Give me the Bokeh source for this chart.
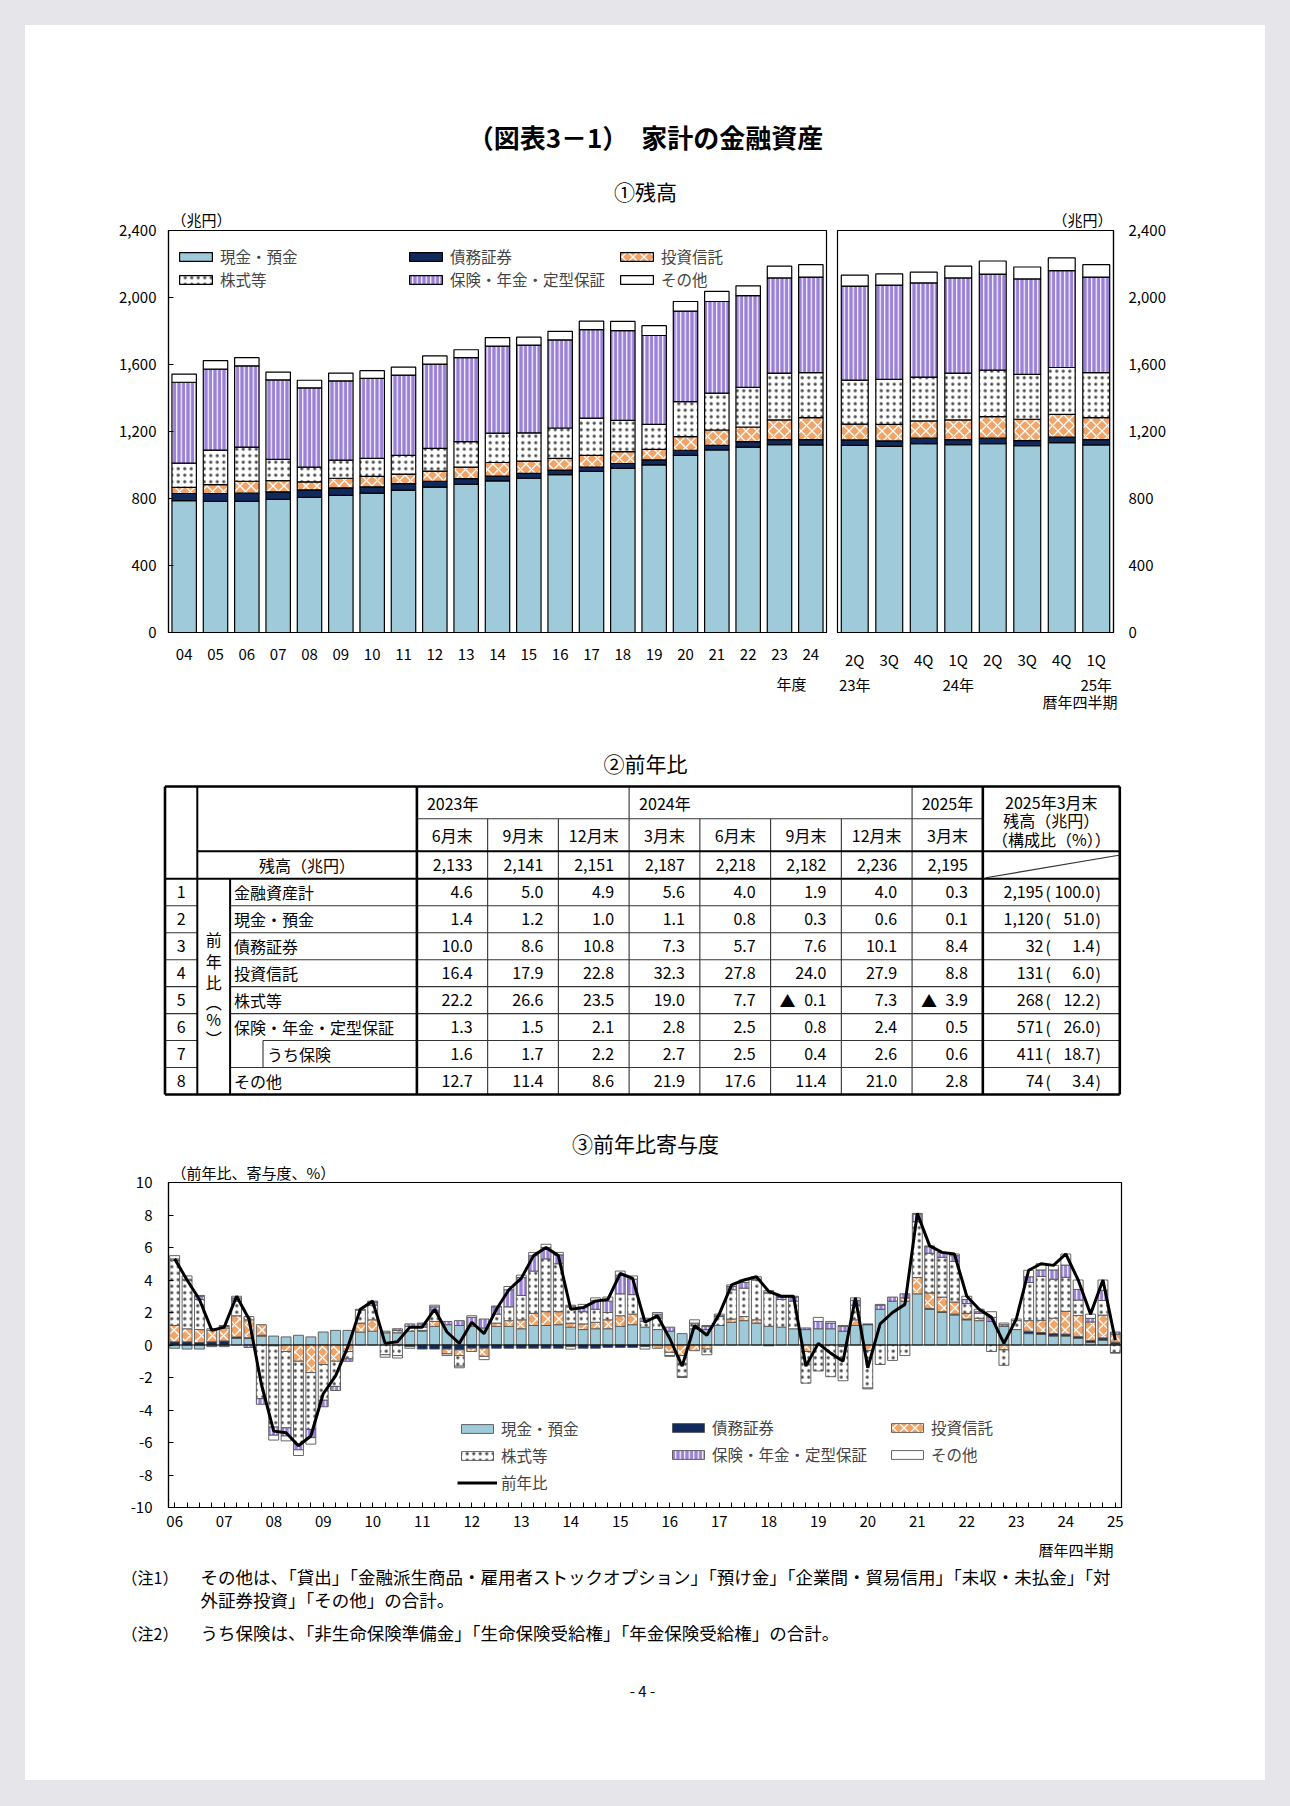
import numpy as np
from bokeh.plotting import figure
from bokeh.models import (ColumnDataSource, Range1d, FixedTicker, NumeralTickFormatter,
                          Legend, LegendItem, Span, Spacer)
from bokeh.layouts import column, row
from bokeh.core.properties import value
from bokeh.embed import file_html
from bokeh.resources import INLINE

FONT = "Noto Sans CJK JP"
FV = value(FONT)

# ============================ DATA ============================
series_keys = ["cash", "bonds", "trust", "stocks", "ins", "other"]
series_names = ["現金・預金", "債務証券", "投資信託", "株式等", "保険・年金・定型保証", "その他"]

# ① 残高（兆円） fiscal years
fy_labels = ["04", "05", "06", "07", "08", "09", "10", "11", "12", "13", "14",
             "15", "16", "17", "18", "19", "20", "21", "22", "23", "24"]
fy_cash = [787, 783, 783, 795, 807, 819, 832, 850, 868, 885, 905, 921, 942, 962, 980, 1001, 1058, 1090, 1107, 1121, 1120]
fy_bonds = [43, 47, 49, 45, 45, 45, 38, 39, 35, 34, 29, 29, 28, 25, 29, 30, 30, 27, 32, 31, 32]
fy_trust = [36, 53, 71, 67, 47, 57, 62, 57, 61, 68, 81, 73, 70, 71, 71, 62, 82, 92, 88, 117, 131]
fy_stocks = [145, 206, 204, 126, 88, 108, 108, 112, 135, 152, 175, 169, 181, 222, 186, 150, 208, 220, 237, 280, 268]
fy_ins = [483, 483, 485, 475, 474, 473, 477, 479, 503, 502, 520, 524, 526, 528, 536, 530, 541, 547, 547, 568, 571]
fy_other = [49, 51, 49, 47, 45, 47, 46, 47, 49, 47, 51, 47, 51, 51, 55, 59, 57, 60, 59, 70, 74]

# ① 残高 calendar quarters
q_labels = ["2Q", "3Q", "4Q", "1Q", "2Q", "3Q", "4Q", "1Q"]
q_year_labels = ["23年", "", "", "24年", "", "", "", "25年"]
q_cash = [1117, 1111, 1127, 1121, 1127, 1115, 1133, 1120]
q_bonds = [33, 33, 33, 31, 33, 31, 33, 32]
q_trust = [94, 98, 103, 117, 129, 127, 136, 131]
q_stocks = [263, 269, 262, 280, 277, 268, 280, 268]
q_ins = [561, 563, 562, 568, 574, 570, 578, 571]
q_other = [65, 67, 64, 70, 78, 71, 76, 74]

bal_ticks = [0, 400, 800, 1200, 1600, 2000, 2400]

# ② 前年比 table
tbl_years = ["2023年", "2024年", "2025年"]
tbl_year_span = [3, 4, 1]
tbl_months = ["6月末", "9月末", "12月末", "3月末", "6月末", "9月末", "12月末", "3月末"]
tbl_balance = [2133, 2141, 2151, 2187, 2218, 2182, 2236, 2195]
tbl_row_labels = ["金融資産計", "現金・預金", "債務証券", "投資信託", "株式等",
                  "保険・年金・定型保証", "うち保険", "その他"]
tbl_yoy = [
    [4.6, 5.0, 4.9, 5.6, 4.0, 1.9, 4.0, 0.3],
    [1.4, 1.2, 1.0, 1.1, 0.8, 0.3, 0.6, 0.1],
    [10.0, 8.6, 10.8, 7.3, 5.7, 7.6, 10.1, 8.4],
    [16.4, 17.9, 22.8, 32.3, 27.8, 24.0, 27.9, 8.8],
    [22.2, 26.6, 23.5, 19.0, 7.7, -0.1, 7.3, -3.9],
    [1.3, 1.5, 2.1, 2.8, 2.5, 0.8, 2.4, 0.5],
    [1.6, 1.7, 2.2, 2.7, 2.5, 0.4, 2.6, 0.6],
    [12.7, 11.4, 8.6, 21.9, 17.6, 11.4, 21.0, 2.8],
]
tbl_amount = [2195, 1120, 32, 131, 268, 571, 411, 74]
tbl_share = [100.0, 51.0, 1.4, 6.0, 12.2, 26.0, 18.7, 3.4]

# ③ 前年比寄与度 (2006Q1 .. 2025Q1)
cq_year_labels = ["06", "07", "08", "09", "10", "11", "12", "13", "14", "15",
                  "16", "17", "18", "19", "20", "21", "22", "23", "24", "25"]
c_cash = [-0.2, -0.25, -0.25, -0.1, -0.1, 0.4, 0.4, 0.55, 0.55, 0.5,
          0.6, 0.5, 0.8, 0.9, 0.9, 0.8, 0.85, 0.75, 0.75, 0.85,
          0.85, 1.15, 1.25, 1.2, 1.15, 1.05, 1.15, 1.15, 1.0, 1.2,
          1.2, 1.25, 1.1, 0.95, 1.0, 1.0, 1.15, 1.25, 1.1, 0.95,
          0.85, 0.7, 1.0, 0.95, 1.2, 1.4, 1.5, 1.35, 1.15, 1.1,
          1.0, 0.95, 1.0, 1.0, 0.85, 1.2, 1.25, 2.2, 2.7, 2.7,
          3.15, 2.2, 2.0, 1.85, 1.55, 1.5, 1.45, 1.15, 0.95, 0.7,
          0.65, 0.55, 0.55, 0.42, 0.15, 0.3, 0.05]
c_bonds = [0.2, 0.2, 0.15, 0.2, 0.25, 0.1, 0.05, 0.05, -0.05, 0.0,
           0.0, 0.0, 0.0, 0.0, 0.0, 0.0, 0.0, 0.0, 0.0, -0.1,
           -0.25, -0.25, -0.25, -0.3, -0.2, -0.2, -0.2, -0.2, -0.2, -0.2,
           -0.2, -0.2, -0.1, -0.2, -0.2, -0.15, -0.15, -0.15, -0.1, 0.0,
           0.0, 0.0, 0.0, 0.0, 0.0, 0.0, 0.0, 0.0, -0.05, 0.0,
           0.0, 0.0, 0.0, 0.0, 0.0, 0.0, 0.05, 0.0, 0.0, 0.0,
           0.0, 0.05, 0.05, 0.05, 0.05, 0.0, 0.0, 0.0, 0.0, 0.15,
           0.12, 0.15, 0.12, 0.1, 0.12, 0.14, 0.12]
c_trust = [1.0, 0.8, 0.8, 0.7, 0.8, 1.3, 1.1, 0.65, 0.0, -0.4,
           -1.0, -1.7, -1.2, -1.0, -0.4, 0.55, 0.7, 0.1, 0.15, 0.0,
           0.05, 0.3, -0.3, -0.35, -0.2, -0.5, 0.2, 0.35, 0.55, 0.75,
           0.85, 0.8, 0.25, 0.35, 0.4, 0.55, 0.65, 0.65, 0.0, -0.2,
           -0.45, -0.65, -0.35, -0.25, 0.0, 0.2, 0.25, 0.2, 0.0, 0.0,
           0.0, -0.4, 0.0, 0.0, -0.1, 0.35, -0.35, 0.0, 0.0, 0.2,
           1.0, 0.95, 0.9, 0.75, 0.35, 0.15, 0.0, -0.3, 0.0, 0.65,
           0.75, 0.95, 1.4, 1.3, 1.15, 1.4, 0.5]
c_stocks = [4.0, 3.0, 1.85, 0.1, 0.1, 0.9, 0.2, -3.3, -5.0, -4.7,
            -5.1, -3.5, -2.2, -1.55, -0.45, 0.8, 0.9, -0.6, -0.65, 0.3,
            0.2, 0.7, 0.0, -0.65, 0.0, 0.0, 0.55, 0.85, 1.5, 2.6,
            3.25, 2.95, 1.0, 0.75, 0.8, 0.45, 1.35, 1.2, 0.35, 0.7,
            -0.2, -1.3, 0.35, -0.35, 0.55, 1.8, 1.75, 2.45, 2.05, 1.7,
            1.7, -1.95, -1.6, -1.95, -2.1, 0.9, -2.3, -1.2, -0.95, -0.65,
            3.45, 2.45, 2.45, 2.5, 0.6, 0.3, -0.4, -0.95, 0.55, 2.35,
            2.7, 2.4, 2.1, 0.95, 0.0, 0.9, -0.47]
c_ins = [0.1, 0.05, 0.2, 0.0, 0.05, 0.2, -0.15, -0.35, -0.5, -0.5,
         -0.35, -0.5, -0.4, -0.25, -0.15, 0.0, 0.2, 0.0, 0.1, 0.15,
         0.2, 0.2, 0.2, 0.3, 0.55, 0.55, 0.45, 1.05, 1.1, 0.95,
         0.7, 0.55, 0.1, 0.3, 0.55, 0.7, 1.15, 0.95, 0.2, 0.25,
         0.25, 0.0, 0.0, 0.2, 0.05, 0.2, 0.35, 0.05, 0.05, 0.15,
         0.25, 0.1, 0.45, 0.35, 0.3, 0.3, 0.0, 0.25, 0.25, 0.25,
         0.45, 0.4, 0.3, 0.35, 0.25, 0.1, 0.25, 0.1, 0.0, 0.35,
         0.4, 0.57, 0.75, 0.65, 0.22, 0.63, 0.13]
c_other = [0.2, 0.2, 0.05, 0.0, 0.0, 0.1, 0.0, 0.0, -0.3, -0.3,
           -0.35, -0.4, 0.0, 0.0, 0.0, 0.05, 0.05, -0.15, -0.15, -0.1,
           0.05, 0.1, -0.1, -0.1, 0.1, -0.2, 0.05, 0.2, 0.15, 0.2,
           0.2, 0.15, -0.15, 0.15, 0.15, 0.25, 0.25, 0.2, -0.15, 0.1,
           -0.05, -0.05, 0.2, 0.05, 0.1, 0.1, 0.15, 0.15, 0.1, 0.05,
           0.05, 0.0, 0.25, 0.1, 0.05, 0.15, -0.05, 0.05, 0.0, 0.0,
           0.05, 0.05, 0.0, 0.1, 0.2, 0.15, 0.35, 0.1, 0.1, 0.4,
           0.38, 0.28, 0.68, 0.58, 0.26, 0.63, -0.03]
c_total = [5.3, 4.0, 2.8, 0.9, 1.1, 3.0, 1.6, -2.4, -5.3, -5.4,
           -6.2, -5.6, -3.0, -1.9, -0.1, 2.2, 2.7, 0.1, 0.2, 1.1,
           1.1, 2.2, 0.8, 0.1, 1.4, 0.7, 2.2, 3.4, 4.1, 5.5,
           6.0, 5.5, 2.2, 2.3, 2.7, 2.8, 4.4, 4.1, 1.4, 1.8,
           0.4, -1.3, 1.2, 0.6, 1.9, 3.7, 4.0, 4.2, 3.3, 3.0,
           3.0, -1.3, 0.1, -0.5, -1.0, 2.9, -1.4, 1.3, 2.0, 2.5,
           8.1, 6.1, 5.7, 5.6, 3.0, 2.2, 1.7, 0.1, 1.6, 4.6,
           5.0, 4.9, 5.6, 4.0, 1.9, 4.0, 0.3]
contrib_ticks = [-10, -8, -6, -4, -2, 0, 2, 4, 6, 8, 10]

note1_a = "その他は、「貸出」「金融派生商品・雇用者ストックオプション」「預け金」「企業間・貿易信用」「未収・未払金」「対"
note1_b = "外証券投資」「その他」の合計。"
note2 = "うち保険は、「非生命保険準備金」「生命保険受給権」「年金保険受給権」の合計。"

# ============================ STYLES ============================
STY = {
    "cash": dict(fill_color="#9ecad9"),
    "bonds": dict(fill_color="#102a5e"),
    "trust": dict(fill_color="#f0a468", hatch_pattern="diagonal_cross", hatch_color="white",
                  hatch_weight=1.3, hatch_scale=11),
    "stocks": dict(fill_color="white", hatch_pattern="dot", hatch_color="black",
                   hatch_weight=0.3, hatch_scale=6.5, hatch_alpha=0.7),
    "ins": dict(fill_color="#9a80d6", hatch_pattern="vertical_line", hatch_color="white",
                hatch_weight=1.2, hatch_scale=4.5),
    "other": dict(fill_color="white"),
}
GRAY = "#e6e6ea"
PAGE_X0, PAGE_X1 = 25, 1265


def text_fig(y_top, y_bot):
    p = figure(width=PAGE_X1 - PAGE_X0, height=int(round(y_bot - y_top)),
               x_range=Range1d(PAGE_X0, PAGE_X1), y_range=Range1d(y_bot, y_top),
               x_axis_location=None, y_axis_location=None, min_border=0,
               min_border_left=0, min_border_right=0, min_border_top=0, min_border_bottom=0,
               outline_line_color=None, toolbar_location=None, output_backend="svg")
    p.xgrid.visible = False
    p.ygrid.visible = False
    return p


def put_text(p, xs, ys, texts, size="16px", align="left", style="normal"):
    p.text(x=xs, y=ys, text=texts, text_font=FV, text_font_size=size,
           text_align=align, text_baseline="middle", text_font_style=style,
           text_color="black")


def style_axis(ax, size="15px"):
    ax.major_label_text_font = FONT
    ax.major_label_text_font_size = size
    ax.major_label_text_color = "black"
    ax.axis_line_color = "black"
    ax.axis_line_width = 1.2
    ax.major_tick_line_color = "black"
    ax.minor_tick_line_color = None


def style_title(p, align, offset, standoff=2):
    p.title.text_font = FONT
    p.title.text_font_size = "15px"
    p.title.text_font_style = "normal"
    p.title.text_color = "black"
    p.title.align = align
    p.title.offset = offset
    p.title.standoff = standoff


def stacked_positive(p, comps, width):
    n = len(comps[0])
    base = np.zeros(n)
    rs = {}
    for key, vals in zip(series_keys, comps):
        v = np.array(vals, dtype=float)
        src = ColumnDataSource(dict(x=np.arange(n), bottom=base.copy(), top=base + v))
        rs[key] = p.vbar(x="x", width=width, bottom="bottom", top="top", source=src,
                         line_color="black", line_width=1.2, **STY[key])
        base = base + v
    return rs


def make_legend(items, loc, size, gw, gh, spacing):
    return Legend(items=items, location=loc, orientation="vertical",
                  label_text_font=FONT, label_text_font_size=size,
                  glyph_width=gw, glyph_height=gh, label_standoff=4,
                  spacing=spacing, padding=0, margin=0, label_height=16,
                  border_line_color=None, background_fill_alpha=0)


# ============================ HEADER (page y 25..205) ============================
TL_L, TL_R, TR_L, TR_R = 168, 826, 837, 1113
header = text_fig(25, 205)
put_text(header, [645], [136], ["（図表3－1）　家計の金融資産"], size="26px", align="center", style="bold")
put_text(header, [645], [190], ["①残高"], size="21px", align="center")

# ============================ TOP CHARTS (page y 205..672) ============================
tl_w = TL_R + 6 - PAGE_X0
tl = figure(width=tl_w, height=467, x_range=Range1d(-0.5, len(fy_labels) - 0.5),
            y_range=Range1d(0, 2400), min_border_left=TL_L - PAGE_X0, min_border_right=6,
            min_border_top=25, min_border_bottom=33, toolbar_location=None,
            title="（兆円）", output_backend="svg",
            outline_line_color="black", outline_line_width=1.2)
style_title(tl, "left", 3)
tl.xgrid.visible = False
tl.ygrid.visible = False
r_tl = stacked_positive(tl, [fy_cash, fy_bonds, fy_trust, fy_stocks, fy_ins, fy_other], 0.78)
tl.yaxis.ticker = FixedTicker(ticks=bal_ticks)
tl.yaxis.formatter = NumeralTickFormatter(format="0,0")
tl.xaxis.ticker = FixedTicker(ticks=list(range(len(fy_labels))))
tl.xaxis.major_label_overrides = {i: s for i, s in enumerate(fy_labels)}
style_axis(tl.xaxis[0])
style_axis(tl.yaxis[0])
tl.xaxis.major_tick_line_color = None
tl.xaxis.major_label_standoff = 10
tl.yaxis.major_tick_in = 5
tl.yaxis.major_tick_out = 0
tl.yaxis.major_label_standoff = 12

GH = 11
LEG_Y = 342
tl.add_layout(make_legend([LegendItem(label=series_names[0], renderers=[r_tl["cash"]]),
                           LegendItem(label=series_names[3], renderers=[r_tl["stocks"]])],
                          (7, LEG_Y), "15.5px", 41, GH, 1))
tl.add_layout(make_legend([LegendItem(label=series_names[1], renderers=[r_tl["bonds"]]),
                           LegendItem(label=series_names[4], renderers=[r_tl["ins"]])],
                          (237, LEG_Y), "15.5px", 41, GH, 1))
tl.add_layout(make_legend([LegendItem(label=series_names[2], renderers=[r_tl["trust"]]),
                           LegendItem(label=series_names[5], renderers=[r_tl["other"]])],
                          (448, LEG_Y), "15.5px", 41, GH, 1))

tr = figure(width=PAGE_X1 - PAGE_X0 - tl_w, height=467, x_range=Range1d(-0.5, len(q_labels) - 0.5),
            y_range=Range1d(0, 2400), min_border_left=TR_L - (PAGE_X0 + tl_w),
            min_border_right=PAGE_X1 - TR_R,
            min_border_top=25, min_border_bottom=33, toolbar_location=None,
            title="（兆円）", y_axis_location="right", output_backend="svg",
            outline_line_color="black", outline_line_width=1.2)
style_title(tr, "right", 1)
tr.xgrid.visible = False
tr.ygrid.visible = False
stacked_positive(tr, [q_cash, q_bonds, q_trust, q_stocks, q_ins, q_other], 0.78)
tr.yaxis.ticker = FixedTicker(ticks=bal_ticks)
tr.yaxis.formatter = NumeralTickFormatter(format="0,0")
tr.xaxis.ticker = FixedTicker(ticks=list(range(len(q_labels))))
tr.xaxis.major_label_overrides = {i: s for i, s in enumerate(q_labels)}
style_axis(tr.xaxis[0])
style_axis(tr.yaxis[0])
tr.xaxis.major_tick_line_color = None
tr.xaxis.major_label_standoff = 10
tr.yaxis.major_tick_in = 0
tr.yaxis.major_tick_out = 0
tr.yaxis.major_label_standoff = 15

# sub-axis texts (page y 672..715)
sub = text_fig(672, 715)
put_text(sub, [TL_R - 20], [683], ["年度"], size="15px", align="right")
q_w = (TR_R - TR_L) / len(q_labels)
qx = [TR_L + q_w * (i + 0.5) for i, s in enumerate(q_year_labels) if s]
put_text(sub, qx, [684] * len(qx), [s for s in q_year_labels if s], size="15px", align="center")
put_text(sub, [TR_R + 4], [701], ["暦年四半期"], size="15px", align="right")

# ============================ TABLE (page y 715..1159) ============================
tb = text_fig(715, 1159)
put_text(tb, [645], [762], ["②前年比"], size="21px", align="center")
put_text(tb, [645], [1142], ["③前年比寄与度"], size="21px", align="center")

XL, XN, XV, XS, XLAB, XR = 164.5, 196.8, 229.6, 262.5, 416.4, 1119.3
CW = 70.74
col_edges = [XLAB + CW * k for k in range(len(tbl_months) + 1)]
YT, YYM, YH, YB = 786.0, 818.3, 850.7, 878.3
RH = 26.96
row_edges = [YB + RH * k for k in range(len(tbl_row_labels) + 1)]
YE = row_edges[-1]
XC = col_edges[-1]

thick = [(XL, YT, XR, YT), (XL, YE, XR, YE), (XL, YT, XL, YE), (XR, YT, XR, YE),
         (XLAB, YT, XLAB, YE), (XC, YT, XC, YE)]
medium = [(XN, YT, XN, YE), (XV, YB, XV, YE), (XN, YH, XR, YH), (XL, YB, XR, YB)]
thin = [(XLAB, YYM, XC, YYM)]
year_bounds = list(np.cumsum(tbl_year_span)[:-1])
for k in range(1, len(tbl_months)):
    y0 = YT if k in year_bounds else YYM
    thin.append((col_edges[k], y0, col_edges[k], YE))
for k in range(1, len(tbl_row_labels)):
    thin.append((XL, row_edges[k], XN, row_edges[k]))
    thin.append((XS if k == 6 else XV, row_edges[k], XR, row_edges[k]))
thin.append((XS, row_edges[6], XS, row_edges[7]))
thin.append((XC + 3, YB - 1, XR - 1, YH + 4))  # diagonal


def segs(p, lst, w, color):
    a = np.array(lst)
    p.segment(x0=a[:, 0], y0=a[:, 1], x1=a[:, 2], y1=a[:, 3], line_color=color, line_width=w)


segs(tb, thin, 1.1, "#333333")
segs(tb, medium, 2.0, "black")
segs(tb, thick, 2.6, "black")

start = 0
for name, span in zip(tbl_years, tbl_year_span):
    if span == 1:
        put_text(tb, [(col_edges[start] + col_edges[start + 1]) / 2], [(YT + YYM) / 2], [name], align="center")
    else:
        put_text(tb, [col_edges[start] + 10], [(YT + YYM) / 2], [name], align="left")
    start += span
centers = [(col_edges[k] + col_edges[k + 1]) / 2 for k in range(len(tbl_months))]
put_text(tb, centers, [(YYM + YH) / 2] * len(tbl_months), tbl_months, align="center")
put_text(tb, [(XC + XR) / 2] * 3, [801, 819, 838],
         ["2025年3月末", "残高（兆円）", "（構成比（%））"], align="center")
put_text(tb, [(XN + XLAB) / 2], [(YH + YB) / 2], ["残高（兆円）"], align="center")
put_text(tb, [col_edges[k + 1] - 15 for k in range(len(tbl_months))],
         [(YH + YB) / 2] * len(tbl_months), [f"{v:,}" for v in tbl_balance], align="right")

rc = [(row_edges[k] + row_edges[k + 1]) / 2 for k in range(len(tbl_row_labels))]
put_text(tb, [(XL + XN) / 2] * len(rc), rc, [str(i + 1) for i in range(len(rc))], align="center")
lab_x = [XS + 4 if i == 6 else XV + 4 for i in range(len(rc))]
put_text(tb, lab_x, rc, tbl_row_labels, align="left")
vx, vy, vt, tx, ty = [], [], [], [], []
for r, vals in enumerate(tbl_yoy):
    for k, v in enumerate(vals):
        vx.append(col_edges[k + 1] - 15)
        vy.append(rc[r])
        vt.append(f"{abs(v):.1f}")
        if v < 0:
            tx.append(col_edges[k] + 9)
            ty.append(rc[r])
put_text(tb, vx, vy, vt, align="right")
put_text(tb, tx, ty, ["▲"] * len(tx), align="left")
put_text(tb, [1043] * len(rc), rc, [f"{a:,}" for a in tbl_amount], align="right")
put_text(tb, [1045] * len(rc), rc, ["("] * len(rc), align="left")
put_text(tb, [1094] * len(rc), rc, [f"{s:.1f}" for s in tbl_share], align="right")
put_text(tb, [1095] * len(rc), rc, [")"] * len(rc), align="left")
put_text(tb, [(XN + XV) / 2] * 6, [938, 960, 981, 1001, 1018, 1037],
         ["前", "年", "比", "︵", "%", "︶"], align="center")

# ============================ CONTRIBUTION CHART (page y 1159..1537) ============================
NQ = len(c_total)
BC_L, BC_R = 168, 1121
bc = figure(width=PAGE_X1 - PAGE_X0, height=378, x_range=Range1d(-0.5, NQ - 0.5), y_range=Range1d(-10, 10),
            min_border_left=BC_L - PAGE_X0, min_border_right=PAGE_X1 - BC_R,
            min_border_top=22, min_border_bottom=30,
            toolbar_location=None, output_backend="svg", title="（前年比、寄与度、%）",
            outline_line_color="black", outline_line_width=1.2)
style_title(bc, "left", 3, standoff=0)
bc.xgrid.visible = False
bc.ygrid.visible = False
xq = np.arange(NQ)
pos = np.zeros(NQ)
neg = np.zeros(NQ)
r_bc = {}
for key, vals in zip(series_keys, [c_cash, c_bonds, c_trust, c_stocks, c_ins, c_other]):
    v = np.array(vals, dtype=float)
    bottom = np.where(v >= 0, pos, neg + v)
    top = np.where(v >= 0, pos + v, neg)
    pos = pos + np.clip(v, 0, None)
    neg = neg + np.clip(v, None, 0)
    m = v != 0
    src = ColumnDataSource(dict(x=xq[m], bottom=bottom[m], top=top[m]))
    r_bc[key] = bc.vbar(x="x", width=0.8, bottom="bottom", top="top", source=src,
                        line_color="#555555", line_width=0.9, **STY[key])
bc.add_layout(Span(location=0, dimension="width", line_color="black", line_width=1.2))
r_line = bc.line(xq, c_total, line_color="black", line_width=3)

bc.yaxis.ticker = FixedTicker(ticks=contrib_ticks)
bc.yaxis.major_label_overrides = {t: str(t) for t in contrib_ticks}
bc.xaxis.ticker = FixedTicker(ticks=list(range(NQ)))
bc.xaxis.major_label_overrides = {i: (cq_year_labels[i // 4] if i % 4 == 0 else "") for i in range(NQ)}
style_axis(bc.xaxis[0])
style_axis(bc.yaxis[0])
bc.xaxis.major_tick_in = 5
bc.xaxis.major_tick_out = 0
bc.xaxis.major_label_standoff = 8
bc.yaxis.major_tick_in = 5
bc.yaxis.major_tick_out = 0
bc.yaxis.major_label_standoff = 16

bc.add_layout(make_legend([LegendItem(label=series_names[0], renderers=[r_bc["cash"]]),
                           LegendItem(label=series_names[3], renderers=[r_bc["stocks"]]),
                           LegendItem(label="前年比", renderers=[r_line])],
                          (289, 14), "15.5px", 40, GH, 5))
bc.add_layout(make_legend([LegendItem(label=series_names[1], renderers=[r_bc["bonds"]]),
                           LegendItem(label=series_names[4], renderers=[r_bc["ins"]])],
                          (500, 42), "15.5px", 40, GH, 5))
bc.add_layout(make_legend([LegendItem(label=series_names[2], renderers=[r_bc["trust"]]),
                           LegendItem(label=series_names[5], renderers=[r_bc["other"]])],
                          (719, 42), "15.5px", 40, GH, 5))

# ============================ NOTES (page y 1537..1780) ============================
nt = text_fig(1537, 1780)
put_text(nt, [1113], [1549], ["暦年四半期"], size="15px", align="right")
put_text(nt, [121, 121], [1576, 1632], ["（注1）", "（注2）"], size="16px")
put_text(nt, [200, 200, 200], [1576, 1599, 1632], [note1_a, note1_b, note2], size="17.5px")
put_text(nt, [642], [1690], ["- 4 -"], size="15px", align="center")

# ============================ PAGE ============================
inner = column(row(header), row(tl, tr), row(sub), row(tb), row(bc), row(nt))
page = column(
    Spacer(width=1290, height=25, styles={"background-color": GRAY}),
    row(Spacer(width=PAGE_X0, height=1755, styles={"background-color": GRAY}),
        inner,
        Spacer(width=1290 - PAGE_X1, height=1755, styles={"background-color": GRAY})),
    Spacer(width=1290, height=26, styles={"background-color": GRAY}),
)

open("out.html", "w").write(file_html(page, INLINE))
